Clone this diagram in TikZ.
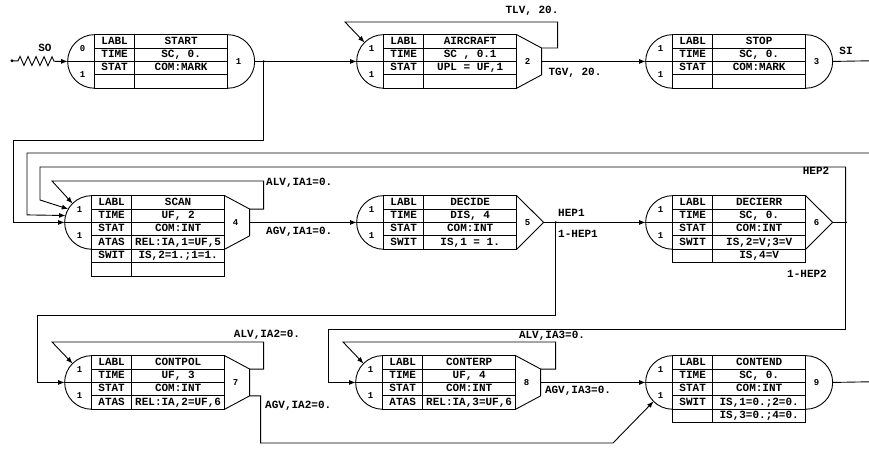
\documentclass[tikz,border=0pt]{standalone}
\usepackage{fontspec}
\newfontfamily\qfont{Liberation Mono}
\usetikzlibrary{arrows.meta,calc,matrix,decorations.pathmorphing}

\newcommand{\qsize}{\fontsize{11}{12}\selectfont\bfseries}

\tikzset{
  qline/.style={line width=0.9pt},
  flow/.style={qline, -{Latex[length=6.5pt,width=5pt]}},
  qtable/.style={matrix of nodes, nodes in empty cells, anchor=north west,
    inner sep=0pt, column sep=-0.9pt, row sep=-0.9pt,
    nodes={draw, qline, font=\qfont\qsize, inner sep=0pt, outer sep=0pt,
      minimum height=13.4pt, text height=7pt, text depth=1.5pt},
    column 1/.style={nodes={minimum width=40pt}},
    column 2/.style={nodes={minimum width=93pt}}},
  qnum/.style={font=\qfont\fontsize{9}{10}\selectfont\bfseries, inner sep=0pt},
  elabel/.style={font=\qfont\qsize, inner sep=1pt},
  jdot/.style={fill, radius=1.3pt}
}

% input side of a node: #1 name, #2 upper number, #3 lower number
\newcommand{\qgin}[3]{%
  \coordinate (#1-c) at (#1-2-1.south west);
  \draw[qline] (#1-1-1.north west) arc[start angle=90, end angle=270, x radius=27pt, y radius=26.8pt];
  \draw[qline] (#1-c) -- ++(-27pt,0) coordinate (#1-in);
  \node[qnum] (#1-i1) at ($(#1-c)+(-12pt,13.4pt)$) {#2};
  \node[qnum] (#1-i2) at ($(#1-c)+(-12pt,-13.4pt)$) {#3};
  \coordinate (#1-inup) at ($(#1-c)+(135:27pt and 26.8pt)$);
  \coordinate (#1-inmid) at ($(#1-c)+(150:27pt and 26.8pt)$);
  \coordinate (#1-inside) at ($(#1-c)+(165:27pt and 26.8pt)$);
  \coordinate (#1-inlow) at ($(#1-c)+(225:27pt and 26.8pt)$);
}

% output side: #2 = d (round), p (pointed), c (cut off); #3 node number
\newcommand{\qgout}[3]{%
  \coordinate (#1-oc) at (#1-2-2.south east);
  \if d#2
    \draw[qline] (#1-1-2.north east) arc[start angle=90, end angle=-90, x radius=27pt, y radius=26.8pt];
    \coordinate (#1-out) at ($(#1-oc)+(27pt,0)$);
  \fi
  \if p#2
    \draw[qline] (#1-1-2.north east) -- ($(#1-oc)+(27pt,0)$) coordinate (#1-out) -- (#1-4-2.south east);
  \fi
  \if c#2
    \draw[qline] (#1-1-2.north east) -- ++(25pt,-13.4pt) coordinate (#1-top)
      -- ($(#1-4-2.south east)+(25pt,13.4pt)$) coordinate (#1-bot) -- (#1-4-2.south east);
    \coordinate (#1-out) at ($(#1-oc)+(25pt,0)$);
  \fi
  \node[qnum] (#1-num) at ($(#1-oc)+(11pt,0)$) {#3};
}

\begin{document}
\begin{tikzpicture}[x=1pt, y=-1pt]
\useasboundingbox (0,0) rectangle (869,449);

% first row
\matrix (start) [qtable] at (94,34) {
  LABL & START \\ TIME & SC, 0. \\ STAT & COM:MARK \\ & \\ };
\qgin{start}{0}{1} \qgout{start}{d}{1}

\matrix (aircraft) [qtable] at (383,34) {
  LABL & AIRCRAFT \\ TIME & SC , 0.1 \\ STAT & UPL = UF,1 \\ & \\ };
\qgin{aircraft}{1}{1} \qgout{aircraft}{c}{2}

\matrix (stop) [qtable] at (672,34) {
  LABL & STOP \\ TIME & SC, 0. \\ STAT & COM:MARK \\ & \\ };
\qgin{stop}{1}{1} \qgout{stop}{d}{3}

% second row
\matrix (scan) [qtable] at (91,195) {
  LABL & SCAN \\ TIME & UF, 2 \\ STAT & COM:INT \\ ATAS & REL:IA,1=UF,5 \\
  SWIT & IS,2=1.;1=1. \\ & \\ };
\qgin{scan}{1}{1} \qgout{scan}{c}{4}

\matrix (decide) [qtable] at (383,195) {
  LABL & DECIDE \\ TIME & DIS, 4 \\ STAT & COM:INT \\ SWIT & IS,1 = 1. \\ };
\qgin{decide}{1}{1} \qgout{decide}{p}{5}

\matrix (decierr) [qtable] at (672,195) {
  LABL & DECIERR \\ TIME & SC, 0. \\ STAT & COM:INT \\ SWIT & IS,2=V;3=V \\
  & IS,4=V \\ };
\qgin{decierr}{1}{1} \qgout{decierr}{p}{6}

% third row
\matrix (control) [qtable] at (91,355) {
  LABL & CONTPOL \\ TIME & UF, 3 \\ STAT & COM:INT \\ ATAS & REL:IA,2=UF,6 \\ };
\qgin{control}{1}{1} \qgout{control}{c}{7}

\matrix (conterr) [qtable] at (382,355) {
  LABL & CONTERP \\ TIME & UF, 4 \\ STAT & COM:INT \\ ATAS & REL:IA,3=UF,6 \\ };
\qgin{conterr}{1}{1} \qgout{conterr}{c}{8}

\matrix (contend) [qtable] at (672,355) {
  LABL & CONTEND \\ TIME & SC, 0. \\ STAT & COM:INT \\ SWIT & IS,1=0.;2=0. \\
  & IS,3=0.;4=0. \\ };
\qgin{contend}{1}{1} \qgout{contend}{d}{9}

% free ends and branch points
\coordinate (so) at (12,60.8);
\coordinate (si) at (869,60.8);
\coordinate (back) at (869,153);
\coordinate (fin) at (869,381.8);
\coordinate (j1) at ($(start-out)+(9,0)$);
\coordinate (j5) at ($(decide-out)+(12,0)$);
\coordinate (j6) at ($(decierr-out)+(13,0)$);

% connectors
\fill (so) circle[radius=1.6pt];
\draw[flow, decorate, decoration={zigzag, segment length=8pt, amplitude=4.5pt,
  pre length=6pt, post length=12pt}] (so) -- (start-in);
\draw[flow] (start-out) -- (aircraft-in);
\draw[flow] (j1) |- (13,140) |- (scan-in);
\draw[flow] (aircraft-top) -- ++(16,0) |- (345,22) -- (aircraft-inup);
\draw[flow] (aircraft-out) -- (stop-in);
\draw[qline] (stop-out) -- (si);

\draw[flow] (scan-top) -- ++(14,0) |- (52,181) -- (scan-inup);
\draw[flow] (scan-out) -- (decide-in);
\draw[flow] (back) -| (27,214.9) -- (scan-inside);
\draw[flow] (decide-out) -- (decierr-in);
\draw[flow] (j5) |- (37,315) |- (control-in);
\draw[qline] (decierr-out) -- (j6);
\draw[flow] (j6) |- (40,167) -- (40,200) -- (scan-inmid);
\draw[flow] (j6) |- (328,329) |- (conterr-in);

\draw[flow] (control-top) -- ++(14,0) |- (52,342) -- (control-inup);
\draw[flow] (control-bot) -- ++(11,0) |- (613,443) -- (contend-inlow);
\draw[flow] (conterr-top) -- ++(15,0) |- (343,342) -- (conterr-inup);
\draw[flow] (conterr-out) -- (contend-in);
\draw[qline] (contend-out) -- (fin);

\fill[jdot] (j1) circle; \fill[jdot] (j5) circle; \fill[jdot] (j6) circle;

% activity labels
\node[elabel] (solab) at (45,48) {SO};
\node[elabel] (tlv) at (532,11) {TLV, 20.};
\node[elabel] (tgv) at (575,73) {TGV, 20.};
\node[elabel] (silab) at (846,51) {SI};
\node[elabel, anchor=west] (alv1) at (265,183) {ALV,IA1=0.};
\node[elabel, anchor=west] (agv1) at (265,232) {AGV,IA1=0.};
\node[elabel, anchor=west] (hep1) at (557,213) {HEP1};
\node[elabel, anchor=west] (nhep1) at (557,234) {1-HEP1};
\node[elabel] (hep2) at (816,171) {HEP2};
\node[elabel] (nhep2) at (807,274) {1-HEP2};
\node[elabel] (alv2) at (267,335) {ALV,IA2=0.};
\node[elabel, anchor=west] (agv2) at (264,406) {AGV,IA2=0.};
\node[elabel] (alv3) at (552,336) {ALV,IA3=0.};
\node[elabel] (agv3) at (578,391) {AGV,IA3=0.};
\end{tikzpicture}
\end{document}
